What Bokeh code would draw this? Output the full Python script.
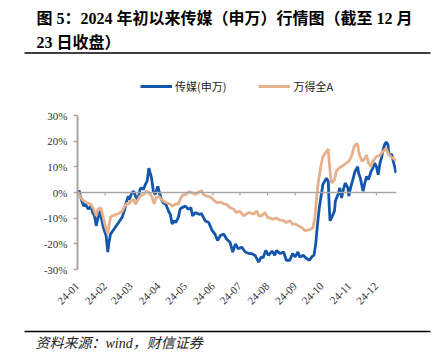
import math
import pandas as pd
from bokeh.plotting import figure
from bokeh.layouts import column, row
from bokeh.models import (Range1d, FixedTicker, PrintfTickFormatter, DatetimeTickFormatter,
                          Span, Legend, LegendItem)
from bokeh.core.properties import value
from bokeh.embed import file_html
from bokeh.resources import INLINE

# ---------------- data ----------------
BASE = pd.Timestamp("2024-01-01")
# days since 2024-01-01, cumulative change in %
media_day = [1, 2, 3, 7, 9, 12, 15, 17, 19, 21, 23, 25, 27, 29, 32, 34, 35, 37, 41, 46, 50, 53, 54, 57, 58,
             61, 63, 65, 67, 69, 70, 72, 74, 76, 78, 80, 83, 85, 87, 90, 92, 94, 96, 99, 102, 104, 106, 108,
             110, 113, 115, 117, 121, 124, 127, 129, 132, 136, 139, 143, 147, 151, 154, 157, 160, 164, 167,
             171, 174, 177, 180, 184, 188, 192, 195, 199, 203, 206, 208, 211, 214, 218, 221, 223, 227, 231,
             234, 238, 241, 244, 247, 249, 253, 257, 260, 263, 265, 267, 269, 271, 273, 275, 279, 281, 282,
             283, 285, 288, 289, 292, 294, 296, 298, 300, 303, 304, 306, 309, 311, 314, 315, 317, 320, 322,
             324, 326, 329, 331, 333, 335, 337, 339, 341, 342, 344, 346, 348, 349, 352, 354, 357]
media_pct = [0.0, 0.8, -1.4, -5.3, -4.6, -6.5, -5.3, -7.8, -9.1, -13.0, -9.7, -7.2, -10.4, -13.6, -16.8,
             -23.2, -20.0, -16.2, -14.2, -11.7, -9.7, -6.5, -4.6, -1.4, -2.7, -0.1, 0.5, -1.4, -2.7, -0.8,
             1.2, 1.8, 1.2, 3.1, 4.4, 9.5, 5.6, 0.5, -0.8, 2.4, -0.1, -2.7, -4.0, -4.6, -7.2, -8.5, -12.3,
             -11.0, -11.7, -9.7, -6.5, -5.9, -5.3, -6.5, -5.9, -9.1, -7.8, -8.5, -8.2, -11.0, -11.7, -14.9,
             -16.2, -18.7, -16.8, -16.2, -18.1, -19.4, -23.2, -20.0, -21.9, -21.3, -23.2, -23.8, -23.8,
             -24.5, -27.1, -25.1, -25.4, -22.6, -24.5, -22.8, -24.5, -22.6, -23.8, -23.2, -26.4, -26.4,
             -23.8, -25.1, -23.2, -25.1, -24.5, -25.8, -26.4, -24.9, -24.5, -20.0, -12.3, -5.9, -1.4, 3.1,
             5.6, 4.4, -4.6, -11.0, -9.7, -7.2, -3.3, -0.8, 1.8, -2.1, 1.2, 3.7, 1.8, -1.4, 1.8, 5.6, 8.2,
             10.1, 7.6, 5.6, 0.5, 3.7, 6.3, 5.0, 8.2, 9.5, 11.4, 10.1, 6.9, 11.4, 14.0, 15.9, 18.5, 19.7,
             18.5, 14.6, 14.9, 12.1, 7.6]
wind_day = [1, 3, 7, 11, 15, 18, 21, 23, 26, 28, 31, 34, 35, 37, 39, 42, 46, 50, 53, 56, 57, 60, 63, 65, 68,
            70, 74, 77, 80, 83, 86, 88, 91, 94, 96, 100, 104, 107, 110, 113, 115, 118, 121, 125, 128, 132,
            135, 139, 141, 145, 149, 152, 156, 160, 164, 167, 171, 175, 178, 182, 186, 190, 193, 197, 201,
            203, 206, 210, 213, 216, 219, 223, 227, 231, 234, 238, 241, 244, 247, 251, 255, 259, 262, 264,
            266, 268, 270, 273, 275, 279, 281, 282, 284, 285, 288, 290, 293, 296, 299, 301, 304, 307, 310,
            313, 314, 316, 319, 322, 324, 326, 329, 331, 335, 339, 342, 346, 348, 351, 354, 357]
wind_pct = [0.0, -1.8, -3.3, -4.0, -4.6, -6.5, -9.1, -6.5, -5.9, -8.5, -12.9, -16.2, -13.6, -9.7, -9.1,
            -8.7, -8.2, -7.4, -5.3, -4.0, -4.6, -3.3, -2.7, -4.6, -2.7, -1.4, -0.8, 0.5, -0.1, -1.4, -4.4,
            -2.1, -1.4, -2.7, -3.3, -4.0, -4.6, -5.3, -4.4, -4.6, -2.7, -1.0, -0.8, 0.3, -0.1, -0.8, -0.1,
            0.8, -0.8, -1.4, -1.8, -2.7, -4.0, -3.7, -4.4, -4.6, -5.9, -6.5, -7.8, -7.2, -9.1, -8.2, -7.8,
            -8.5, -7.2, -9.1, -9.1, -7.8, -9.7, -10.0, -10.4, -10.0, -10.8, -11.0, -11.7, -11.0, -12.3,
            -12.3, -12.9, -13.6, -14.9, -14.6, -14.2, -13.6, -9.7, -2.1, 4.4, 10.8, 14.0, 15.9, 16.9, 12.1,
            5.0, 3.7, 5.0, 8.2, 9.5, 10.1, 10.8, 11.4, 12.1, 14.0, 17.8, 19.1, 18.5, 14.6, 12.1, 13.3, 14.6,
            11.4, 10.1, 12.1, 14.0, 14.6, 15.9, 17.2, 15.3, 14.0, 13.3, 12.3]
series_names = ["传媒(申万)", "万得全A"]
tick_months = ["2024-01-01", "2024-02-01", "2024-03-01", "2024-04-01", "2024-05-01", "2024-06-01",
               "2024-07-01", "2024-08-01", "2024-09-01", "2024-10-01", "2024-11-01", "2024-12-01"]
y_ticks = [-30, -20, -10, 0, 10, 20, 30]
title_lines = ["图 5：2024 年初以来传媒（申万）行情图（截至 12 月", "23 日收盘）"]
source_text = "资料来源：wind，财信证券"

# ---------------- style ----------------
BLUE = "#1456AC"
ORANGE = "#E5B08A"
GRAY = "#A6A6A6"
SERIF_CJK = "'Liberation Serif', 'Noto Sans CJK SC'"
W = 436


def blank(height):
    f = figure(width=W, height=height, x_range=Range1d(0, W), y_range=Range1d(height, 0),
               output_backend="svg", toolbar_location=None,
               x_axis_location=None, y_axis_location=None,
               min_border=0, min_border_left=0, min_border_right=0,
               min_border_top=0, min_border_bottom=0)
    f.outline_line_color = None
    f.grid.grid_line_color = None
    if "frame_align" in f.properties():
        f.frame_align = False
    return f


# ---------------- header: title, rule, legend ----------------
top = blank(100)
top.text(x=[36, 36], y=[18, 42], text=title_lines, text_font=value(SERIF_CJK),
         text_font_style="bold", text_font_size="16px", text_color="#000000",
         text_baseline="middle")
top.segment(x0=[24], y0=[52.5], x1=[430], y1=[52.5], line_color="#000000", line_width=1.5)

media_x = [BASE + pd.Timedelta(days=d) for d in media_day]
wind_x = [BASE + pd.Timedelta(days=d) for d in wind_day]
tick_x = [pd.Timestamp(m) for m in tick_months]

# ---------------- main chart ----------------
p = figure(width=W, height=210, x_axis_type="datetime", output_backend="svg",
           toolbar_location=None,
           x_range=Range1d(BASE, pd.Timestamp("2024-12-23 12:00")), y_range=Range1d(-30, 30),
           min_border_left=77, min_border_right=40, min_border_top=15, min_border_bottom=37)
p.outline_line_color = None
p.grid.grid_line_color = None
if "frame_align" in p.properties():
    p.frame_align = False

yax = p.yaxis[0]
yax.ticker = FixedTicker(ticks=y_ticks)
yax.formatter = PrintfTickFormatter(format="%d%%")
yax.axis_line_color = GRAY
yax.axis_line_width = 2
yax.major_tick_line_color = GRAY
yax.major_tick_line_width = 1.5
yax.major_tick_out = 4
yax.major_tick_in = 0
yax.minor_tick_line_color = None
yax.major_label_text_font = "Liberation Serif"
yax.major_label_text_font_size = "11px"
yax.major_label_text_color = "#333333"
yax.major_label_standoff = 6

xax = p.xaxis[0]
xax.ticker = FixedTicker(ticks=[t.value // 10**6 for t in tick_x])
xax.formatter = DatetimeTickFormatter(days="%y-%m", months="%y-%m", years="%y-%m",
                                      hours="%y-%m", minutes="%y-%m", seconds="%y-%m",
                                      milliseconds="%y-%m", microseconds="%y-%m",
                                      strip_leading_zeros=False)
xax.axis_line_color = None
xax.major_tick_line_color = None
xax.minor_tick_line_color = None
xax.major_label_orientation = math.pi / 4
xax.major_label_text_font = "Liberation Serif"
xax.major_label_text_font_size = "11px"
xax.major_label_text_color = "#333333"
xax.major_label_standoff = 9

p.add_layout(Span(location=0, dimension="width", line_color=GRAY, line_width=1.5))
p.segment(x0=tick_x, y0=[0] * len(tick_x), x1=tick_x, y1=[-1.2] * len(tick_x),
          line_color=GRAY, line_width=1.2)

p.line(media_x, media_pct, line_color=BLUE, line_width=2.8)
p.line(wind_x, wind_pct, line_color=ORANGE, line_width=2.8)

# legend lives in the header (above the chart frame); its sample lines sit off-canvas
lg_media = top.line(x=[-60, -50], y=[-60, -60], line_color=BLUE, line_width=3)
lg_wind = top.line(x=[-60, -50], y=[-60, -60], line_color=ORANGE, line_width=3)
legend = Legend(items=[LegendItem(label=series_names[0], renderers=[lg_media]),
                       LegendItem(label=series_names[1], renderers=[lg_wind])],
                orientation="horizontal", location=(140, 6),
                border_line_color=None, background_fill_alpha=0, padding=0, margin=0,
                spacing=32, glyph_width=32, glyph_height=14, label_standoff=3,
                label_text_font="Noto Sans CJK SC", label_text_font_size="11px",
                label_text_color="#222222")
top.add_layout(legend)

# ---------------- footer: rule and source ----------------
bottom = blank(51)
bottom.segment(x0=[24], y0=[21], x1=[430], y1=[21], line_color="#000000", line_width=1.5)
bottom.text(x=[35], y=[33], text=[source_text], text_font=value(SERIF_CJK),
            text_font_style="italic", text_font_size="14px", text_color="#222222",
            text_baseline="middle")

layout = column(row(top), p, row(bottom), spacing=0)
open("out.html", "w").write(file_html(layout, INLINE))
